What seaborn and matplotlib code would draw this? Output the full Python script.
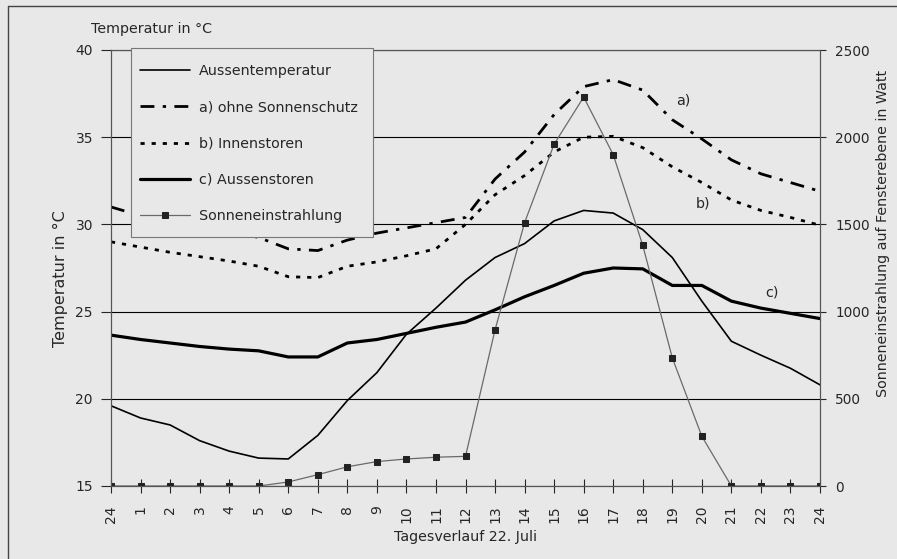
import numpy as np
import pandas as pd
import seaborn as sns
import matplotlib.pyplot as plt
from matplotlib.lines import Line2D
from matplotlib.patches import Rectangle

# Stundenwerte 22. Juli
hours = ["24"] + [str(h) for h in range(1, 24)] + ["24"]
aussentemp = [19.6, 18.9, 18.5, 17.6, 17.0, 16.6, 16.55, 17.9, 19.9, 21.5, 23.7, 25.2,
              26.8, 28.1, 28.9, 30.2, 30.8, 30.65, 29.7, 28.1, 25.6, 23.3, 22.5, 21.75, 20.8]
ohne_schutz = [31.0, 30.5, 30.2, 29.9, 29.6, 29.25, 28.6, 28.5, 29.1, 29.5, 29.8, 30.1,
               30.4, 32.6, 34.15, 36.3, 37.9, 38.3, 37.7, 36.0, 34.9, 33.7, 32.9, 32.4, 31.9]
innenstoren = [29.0, 28.7, 28.4, 28.15, 27.9, 27.6, 27.0, 26.95, 27.6, 27.85, 28.2, 28.6,
               30.0, 31.7, 32.8, 34.15, 35.0, 35.05, 34.4, 33.3, 32.4, 31.4, 30.8, 30.4, 29.95]
aussenstoren = [23.65, 23.4, 23.2, 23.0, 22.85, 22.75, 22.4, 22.4, 23.2, 23.4, 23.75, 24.1,
                24.4, 25.1, 25.85, 26.5, 27.2, 27.5, 27.45, 26.5, 26.5, 25.6, 25.2, 24.9, 24.6]
sonne = [0, 0, 0, 0, 0, 0, 23, 65, 110, 140, 155, 165,
         170, 895, 1510, 1960, 2230, 1900, 1380, 735, 285, 0, 0, 0, 0]

df = pd.DataFrame({
    "pos": np.arange(len(hours)),
    "aussen": aussentemp,
    "a": ohne_schutz,
    "b": innenstoren,
    "c": aussenstoren,
    "sonne": sonne,
})

bg = "#e8e8e8"
fs = 10.3
sns.set_style("ticks", {"axes.facecolor": bg, "figure.facecolor": bg})
plt.rcParams["font.family"] = ["DejaVu Sans"]
plt.rcParams["font.size"] = fs

W, H = 897, 559
fig = plt.figure(figsize=(W / 100, H / 100), dpi=100)
ax = fig.add_axes([111 / W, 1 - 486 / H, (820 - 111) / W, (486 - 50) / H])
ax2 = ax.twinx()

sns.lineplot(data=df, x="pos", y="aussen", ax=ax, color="black", linewidth=1.2,
             label="Aussentemperatur", legend=False)
sns.lineplot(data=df, x="pos", y="a", ax=ax, color="black", linewidth=2.0,
             linestyle=(0, (5, 3, 1.2, 3)), label="a) ohne Sonnenschutz", legend=False)
sns.lineplot(data=df, x="pos", y="b", ax=ax, color="black", linewidth=2.0,
             linestyle=(0, (1.5, 2.5)), label="b) Innenstoren", legend=False)
sns.lineplot(data=df, x="pos", y="c", ax=ax, color="black", linewidth=2.3,
             label="c) Aussenstoren", legend=False)
sns.lineplot(data=df, x="pos", y="sonne", ax=ax2, color="#6a6a6a", linewidth=0.9,
             marker="s", markersize=5, markerfacecolor="#222222", markeredgecolor="#222222",
             label="Sonneneinstrahlung", legend=False)

ax.set_xlim(0, len(hours) - 1)
ax.set_ylim(15, 40)
ax2.set_ylim(0, 2500)
ax.set_xticks(df["pos"])
ax.set_xticklabels(hours, rotation=90)
ax.set_yticks([15, 20, 25, 30, 35, 40])
ax2.set_yticks([0, 500, 1000, 1500, 2000, 2500])
ax.yaxis.grid(True, color="black", linewidth=0.8)
ax.set_axisbelow(True)

ax.set_xlabel("Tagesverlauf 22. Juli", fontsize=fs, labelpad=5)
ax.set_ylabel("")
ax2.set_ylabel("")
ax.tick_params(axis="x", direction="inout", length=10, width=0.8, pad=9, labelsize=10)
ax.tick_params(axis="y", direction="out", length=7, width=0.8, pad=6, labelsize=10)
ax2.tick_params(axis="y", direction="out", length=4, width=0.8, pad=7, labelsize=9.8)
for a_ in (ax, ax2):
    for s in a_.spines.values():
        s.set_color("#555555")
        s.set_linewidth(0.8)

ax.text(19.36, 37.1, "a)", ha="center", va="center", fontsize=fs)
ax.text(20.03, 31.2, "b)", ha="center", va="center", fontsize=fs)
ax.text(22.37, 26.1, "c)", ha="center", va="center", fontsize=fs)

fig.text(91 / W, 1 - 29 / H, "Temperatur in °C", ha="left", va="center", fontsize=fs)
fig.text(60 / W, 1 - 279 / H, "Temperatur in °C", rotation=90, ha="center", va="center", fontsize=11.5)
fig.text(883 / W, 1 - 233 / H, "Sonneneinstrahlung auf Fensterebene in Watt",
         rotation=90, ha="center", va="center", fontsize=fs)

# Legendenkasten
box = Rectangle((131 / W, 1 - 237 / H), (373 - 131) / W, (237 - 48) / H,
                transform=fig.transFigure, facecolor=bg, edgecolor="#777777",
                linewidth=0.8, zorder=4)
ax2.add_patch(box)
box.set_clip_on(False)

handles = ax.get_lines() + ax2.get_lines()
handles = [h for h in handles if not h.get_label().startswith("_")]
leg = ax2.legend(handles=handles, labels=[h.get_label() for h in handles],
                 loc="upper left", bbox_to_anchor=(140 / W, 1 - 64 / H),
                 bbox_transform=fig.transFigure, borderaxespad=0, borderpad=0,
                 frameon=False, handlelength=3.5, handletextpad=0.6,
                 labelspacing=1.56, fontsize=fs)
leg.set_zorder(5)

# Rahmen des Scans
fig.add_artist(Line2D([8 / W, 8 / W], [0, 1 - 6 / H], color="#444444", linewidth=1))
fig.add_artist(Line2D([8 / W, 1], [1 - 6 / H, 1 - 6 / H], color="#444444", linewidth=1))

fig.savefig("out.png", dpi=100, facecolor=bg)
